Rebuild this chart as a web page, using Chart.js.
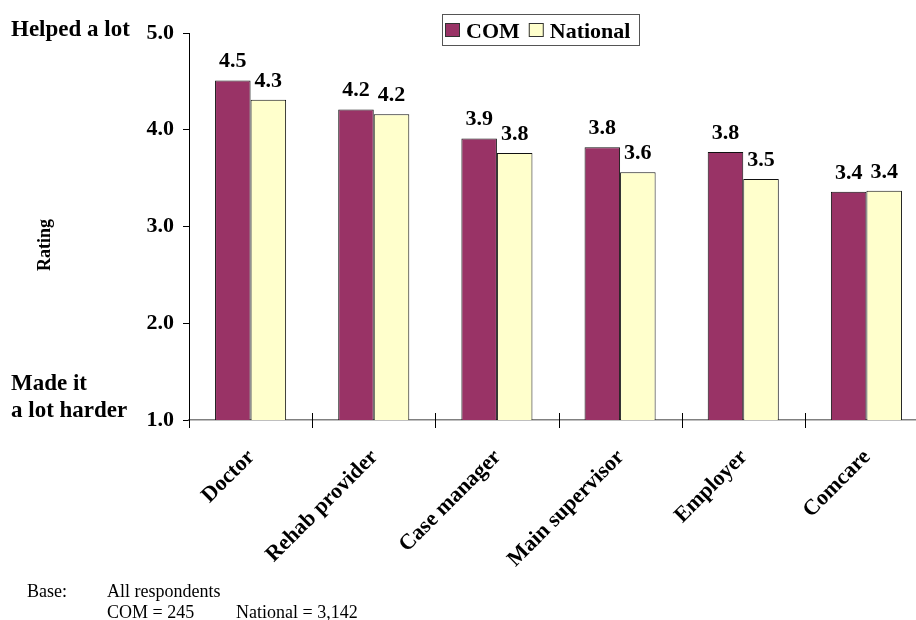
<!DOCTYPE html>
<html>
<head>
<meta charset="utf-8">
<script src="https://cdn.jsdelivr.net/npm/chart.js@4.4.1/dist/chart.umd.min.js"></script>
<style>
    html, body { margin: 0; padding: 0; background: #fff; overflow: hidden; }
    #wrap { position: relative; width: 940px; height: 620px; }
</style>
</head>
<body>
<div id="wrap"><canvas id="ratingChart"></canvas></div>
<script>
// Ratings of who helped with return to work (1 = made it a lot harder, 5 = helped a lot)
const categories = ['Doctor', 'Rehab provider', 'Case manager', 'Main supervisor', 'Employer', 'Comcare'];
const comRatings = [4.51, 4.21, 3.91, 3.82, 3.77, 3.36];
const nationalRatings = [4.31, 4.16, 3.76, 3.56, 3.49, 3.37];
const yTicks = [1, 2, 3, 4, 5];

const SERIF = '"Liberation Serif", "Times New Roman", serif';

// Value labels sitting above each bar
const valueLabels = {
    id: 'valueLabels',
    afterDatasetsDraw(chart) {
        const ctx = chart.ctx;
        ctx.save();
        ctx.font = 'bold 22px ' + SERIF;
        ctx.fillStyle = '#000';
        ctx.textAlign = 'center';
        ctx.textBaseline = 'alphabetic';
        chart.data.datasets.forEach((ds, i) => {
            chart.getDatasetMeta(i).data.forEach((bar, j) => {
                ctx.fillText(ds.data[j].toFixed(1), bar.x, bar.y - 13);
            });
        });
        ctx.restore();
    }
};

// Slanted category names under the x axis
const categoryLabels = {
    id: 'categoryLabels',
    afterDraw(chart) {
        const x = chart.scales.x;
        const ctx = chart.ctx;
        const y = chart.chartArea.bottom + 26;
        ctx.save();
        ctx.font = 'bold 22px ' + SERIF;
        ctx.fillStyle = '#000';
        ctx.textAlign = 'right';
        ctx.textBaseline = 'top';
        categories.forEach((name, i) => {
            ctx.save();
            ctx.translate(x.getPixelForValue(i) - 7, y);
            ctx.rotate(-Math.PI / 4);
            ctx.fillText(name, 0, 0);
            ctx.restore();
        });
        ctx.restore();
    }
};

// Category tick marks that cross the x axis
const crossTicks = {
    id: 'crossTicks',
    afterDraw(chart) {
        const x = chart.scales.x;
        const ctx = chart.ctx;
        const half = (x.getPixelForValue(1) - x.getPixelForValue(0)) / 2;
        const y = chart.chartArea.bottom;
        ctx.save();
        ctx.strokeStyle = '#000';
        ctx.lineWidth = 1;
        for (let i = 0; i < categories.length; i++) {
            const px = Math.round(x.getPixelForValue(i) - half) + 0.5;
            ctx.beginPath();
            ctx.moveTo(px, y - 7);
            ctx.lineTo(px, y + 8);
            ctx.stroke();
        }
        ctx.restore();
    }
};

// Boxed legend built from the datasets
const boxLegend = {
    id: 'boxLegend',
    afterDraw(chart) {
        const ctx = chart.ctx;
        ctx.save();
        ctx.strokeStyle = '#555';
        ctx.lineWidth = 1;
        ctx.strokeRect(442.5, 14.5, 197, 31);
        ctx.font = 'bold 22px ' + SERIF;
        ctx.textBaseline = 'alphabetic';
        let left = 445;
        chart.data.datasets.forEach(ds => {
            ctx.fillStyle = ds.backgroundColor;
            ctx.fillRect(left, 23, 15, 14);
            ctx.strokeStyle = '#333';
            ctx.strokeRect(left + 0.5, 23.5, 14, 13);
            ctx.fillStyle = '#000';
            ctx.fillText(ds.label, left + 21, 38);
            left += 21 + ctx.measureText(ds.label).width + 9;
        });
        ctx.restore();
    }
};

// Scale end descriptions, axis title and base note
const sideText = {
    id: 'sideText',
    afterDraw(chart) {
        const ctx = chart.ctx;
        ctx.save();
        ctx.fillStyle = '#000';
        ctx.textBaseline = 'alphabetic';
        ctx.textAlign = 'left';
        ctx.font = 'bold 23px ' + SERIF;
        ctx.fillText('Helped a lot', 11, 36);
        ctx.fillText('Made it', 11, 390);
        ctx.fillText('a lot harder', 11, 417);

        ctx.save();
        ctx.translate(50, 245);
        ctx.rotate(-Math.PI / 2);
        ctx.textAlign = 'center';
        ctx.font = 'bold 18px ' + SERIF;
        ctx.fillText('Rating', 0, 0);
        ctx.restore();

        ctx.font = '18px ' + SERIF;
        ctx.fillText('Base:', 27, 597);
        ctx.fillText('All respondents', 107, 597);
        ctx.fillText('COM = 245', 107, 618);
        ctx.fillText('National = 3,142', 236, 618);
        ctx.restore();
    }
};

const ctx = document.getElementById('ratingChart').getContext('2d');
new Chart(ctx, {
    type: 'bar',
    data: {
        labels: categories,
        datasets: [
            {
                label: 'COM',
                data: comRatings,
                backgroundColor: '#993366',
                borderColor: '#111',
                borderWidth: 1,
                borderSkipped: 'bottom'
            },
            {
                label: 'National',
                data: nationalRatings,
                backgroundColor: '#FFFFCC',
                borderColor: '#111',
                borderWidth: 1,
                borderSkipped: 'bottom'
            }
        ]
    },
    options: {
        responsive: true,
        maintainAspectRatio: false,
        animation: false,
        layout: { padding: { top: 33, right: 12, left: 0, bottom: 0 } },
        datasets: {
            bar: { categoryPercentage: 0.577, barPercentage: 1.0 }
        },
        plugins: {
            legend: { display: false },
            tooltip: { enabled: false }
        },
        scales: {
            x: {
                offset: true,
                grid: { display: false, drawTicks: false },
                border: { display: true, color: '#808080', width: 1.5 },
                ticks: { display: false },
                afterFit: (scale) => { scale.height = 200; }
            },
            y: {
                min: 1,
                max: 5,
                afterBuildTicks: (scale) => {
                    scale.ticks = yTicks.map(v => ({ value: v }));
                },
                grid: {
                    drawOnChartArea: false,
                    drawTicks: true,
                    tickLength: 6,
                    color: '#000'
                },
                border: { display: true, color: '#000', width: 1 },
                ticks: {
                    color: '#000',
                    padding: 9,
                    font: { family: SERIF, size: 22, weight: 'bold' },
                    callback: (value) => Number(value).toFixed(1)
                },
                afterFit: (scale) => { scale.width = 189; }
            }
        }
    },
    plugins: [valueLabels, categoryLabels, crossTicks, boxLegend, sideText]
});
</script>
</body>
</html>
